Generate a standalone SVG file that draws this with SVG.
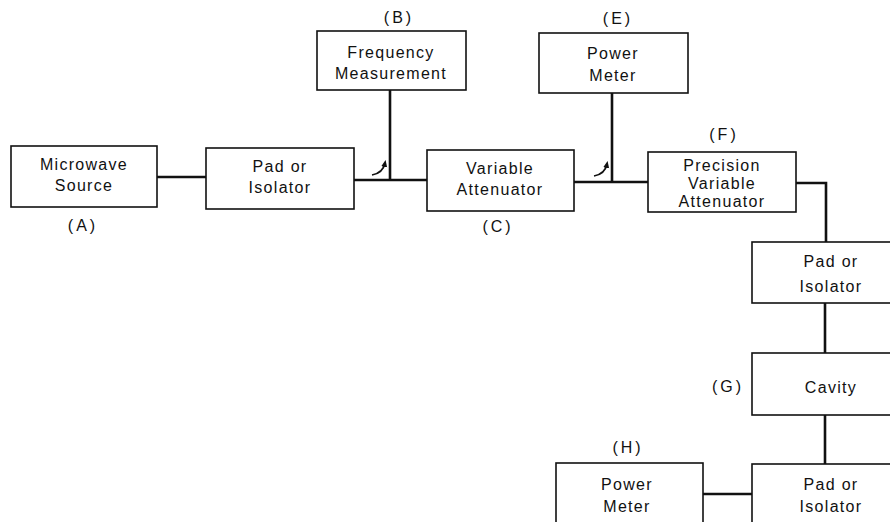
<svg xmlns="http://www.w3.org/2000/svg" width="890" height="522" viewBox="0 0 890 522">
<defs>
<style>
.box{fill:#fff;stroke:#111;stroke-width:1.6}
.t{font-family:"Liberation Sans",Arial,sans-serif;font-size:16px;fill:#111;text-anchor:middle;letter-spacing:1.3px}
.l{letter-spacing:3px}
.c{fill:none;stroke:#111;stroke-width:2.6}
.a{fill:none;stroke:#111;stroke-width:1.6}
</style>
<marker id="ah" markerWidth="8" markerHeight="8" refX="4" refY="4" orient="auto" markerUnits="userSpaceOnUse">
<path d="M0,1 L7,4 L0,7 Z" fill="#111"/>
</marker>
</defs>
<rect width="890" height="522" fill="#fff"/>
<g id="connectors">
<path class="c" d="M157 177 H206"/>
<path class="c" d="M354 180 H427"/>
<path class="c" d="M390 90 V180"/>
<path class="c" d="M574 182 H648"/>
<path class="c" d="M612 93 V182"/>
<path class="c" d="M796 183 H826 V242"/>
<path class="c" d="M825 303 V353"/>
<path class="c" d="M825 415 V464"/>
<path class="c" d="M703 494 H752"/>
<path class="a" d="M372 175 Q383 173 385 163" marker-end="url(#ah)"/>
<path class="a" d="M594 176 Q605 174 607 164" marker-end="url(#ah)"/>
</g>
<g id="A">
<rect class="box" x="11" y="146" width="146" height="61"/>
<text class="t" x="84" y="170">Microwave</text>
<text class="t" x="84" y="191">Source</text>
<text class="t l" x="83" y="231">(A)</text>
</g>
<g id="pad1">
<rect class="box" x="206" y="148" width="148" height="61"/>
<text class="t" x="280" y="172">Pad  or</text>
<text class="t" x="280" y="193">Isolator</text>
</g>
<g id="B">
<rect class="box" x="317" y="31" width="149" height="59"/>
<text class="t" x="391" y="58">Frequency</text>
<text class="t" x="391" y="79">Measurement</text>
<text class="t l" x="399" y="23">(B)</text>
</g>
<g id="C">
<rect class="box" x="427" y="150" width="147" height="61"/>
<text class="t" x="500" y="174">Variable</text>
<text class="t" x="500" y="195">Attenuator</text>
<text class="t l" x="498" y="232">(C)</text>
</g>
<g id="E">
<rect class="box" x="539" y="33" width="149" height="60"/>
<text class="t" x="613" y="59">Power</text>
<text class="t" x="613" y="81">Meter</text>
<text class="t l" x="618" y="24">(E)</text>
</g>
<g id="F">
<rect class="box" x="648" y="152" width="148" height="60"/>
<text class="t" x="722" y="171">Precision</text>
<text class="t" x="722" y="189">Variable</text>
<text class="t" x="722" y="207">Attenuator</text>
<text class="t l" x="724" y="140">(F)</text>
</g>
<g id="pad2">
<rect class="box" x="752" y="242" width="160" height="61"/>
<text class="t" x="831" y="267">Pad  or</text>
<text class="t" x="831" y="292">Isolator</text>
</g>
<g id="G">
<rect class="box" x="752" y="353" width="160" height="62"/>
<text class="t" x="831" y="393">Cavity</text>
<text class="t l" x="728" y="392">(G)</text>
</g>
<g id="pad3">
<rect class="box" x="752" y="464" width="160" height="70"/>
<text class="t" x="831" y="490">Pad  or</text>
<text class="t" x="831" y="512">Isolator</text>
</g>
<g id="H">
<rect class="box" x="556" y="463" width="147" height="70"/>
<text class="t" x="627" y="490">Power</text>
<text class="t" x="627" y="512">Meter</text>
<text class="t l" x="628" y="453">(H)</text>
</g>
</svg>
